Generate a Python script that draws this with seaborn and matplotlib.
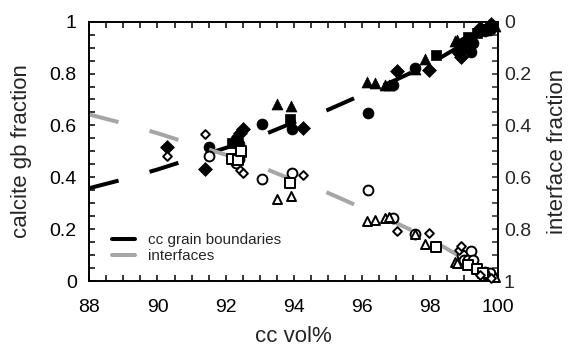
import matplotlib
matplotlib.use("Agg")
import matplotlib.pyplot as plt
from matplotlib.ticker import MultipleLocator, FuncFormatter
import seaborn as sns

# ---- data ----
curve_x = [88, 89, 90, 91, 92, 93, 94, 95, 96, 97, 98, 99, 100]
curve_y = [0.358, 0.392, 0.43, 0.472, 0.513, 0.558, 0.612, 0.66, 0.718, 0.776, 0.838, 0.915, 1.0]

circ_x = [91.52, 92.3, 92.38, 93.07, 93.94, 96.19, 96.9, 97.55, 98.93, 99.0, 99.12, 99.2, 99.25, 99.6, 99.75]
circ_y = [0.518, 0.546, 0.53, 0.606, 0.585, 0.648, 0.757, 0.82, 0.90, 0.92, 0.92, 0.885, 0.918, 0.965, 0.968]

tri_x = [93.52, 93.91, 96.14, 96.38, 96.68, 96.8, 97.55, 97.85, 98.72, 98.8, 99.7, 99.9]
tri_y = [0.683, 0.673, 0.768, 0.765, 0.756, 0.755, 0.818, 0.857, 0.926, 0.93, 0.975, 0.985]

sq_x = [92.2, 92.36, 92.45, 93.9, 98.18, 99.1, 99.37, 99.55]
sq_y = [0.531, 0.533, 0.497, 0.623, 0.87, 0.94, 0.955, 0.97]

dia_x = [90.28, 91.38, 92.42, 92.52, 94.27, 97.03, 97.98, 98.85, 98.9, 99.45, 99.8]
dia_y = [0.516, 0.432, 0.572, 0.585, 0.59, 0.808, 0.815, 0.88, 0.865, 0.975, 0.99]

x_ticks = [88, 90, 92, 94, 96, 98, 100]
y_ticks = [0, 0.2, 0.4, 0.6, 0.8, 1]

sns.set_style("ticks")
plt.rcParams["font.family"] = ["Liberation Sans", "DejaVu Sans"]

fig = plt.figure(figsize=(5.7, 3.51), dpi=100)
ax = fig.add_axes([0.1567, 0.1994, 0.7175, 0.7388])
ax2 = ax.twinx()

grey = "#a6a6a6"
dash = (0, (7.5, 8))
lw = 2.9

sns.lineplot(x=curve_x, y=curve_y, ax=ax, color="black", lw=lw, linestyle=dash,
             label="cc grain boundaries", legend=False)
sns.lineplot(x=curve_x, y=curve_y, ax=ax2, color=grey, lw=lw, linestyle=dash,
             label="interfaces", legend=False)

filled = dict(color="black", edgecolor="black", linewidth=0.5, clip_on=False, zorder=5)
opened = dict(color="white", edgecolor="black", linewidth=1.4, clip_on=False, zorder=5)

for xs, ys, m, s_f, s_o in [(circ_x, circ_y, "o", 62, 50),
                             (tri_x, tri_y, "^", 62, 42),
                             (sq_x, sq_y, "s", 52, 42),
                             (dia_x, dia_y, "D", 50, 20)]:
    sns.scatterplot(x=xs, y=ys, ax=ax, marker=m, s=s_f, legend=False, **filled)
    sns.scatterplot(x=xs, y=ys, ax=ax2, marker=m, s=s_o, legend=False, **opened)

ax.set_xlim(88, 100)
ax.set_ylim(0, 1)
ax2.set_ylim(1, 0)

ax.set_xticks(x_ticks)
ax.set_yticks(y_ticks)
ax2.set_yticks(y_ticks)
ax.xaxis.set_minor_locator(MultipleLocator(0.5))
ax.yaxis.set_minor_locator(MultipleLocator(0.05))
ax2.yaxis.set_minor_locator(MultipleLocator(0.05))
fmt = FuncFormatter(lambda v, p: f"{v:g}")
ax.yaxis.set_major_formatter(fmt)
ax2.yaxis.set_major_formatter(fmt)

ax.tick_params(axis="both", which="both", direction="in", top=True, right=False,
               length=4, width=1.1, colors="black")
ax.tick_params(axis="x", which="major", labelsize=14, pad=13)
ax.tick_params(axis="y", which="major", labelsize=14, pad=9)
ax2.tick_params(axis="y", which="both", direction="in", length=4, width=1.1)
ax2.tick_params(axis="y", which="major", labelsize=14, pad=4)

for a in (ax, ax2):
    for sp in a.spines.values():
        sp.set_linewidth(1.2)
        sp.set_color("black")

ax.set_xlabel("cc vol%", fontsize=16)
ax.set_ylabel("calcite gb fraction", fontsize=16)
ax2.set_ylabel("interface fraction", fontsize=16)
ax.xaxis.set_label_coords(0.5, -0.175)
ax.yaxis.set_label_coords(-0.14, 0.5)
ax2.yaxis.set_label_coords(1.118, 0.5)

h1, l1 = ax.get_legend_handles_labels()
h2, l2 = ax2.get_legend_handles_labels()
leg = ax2.legend(h1 + h2, l1 + l2, loc="upper left", bbox_to_anchor=(0.055, 0.185),
                 frameon=False, fontsize=11, handlelength=1.5, handletextpad=0.85,
                 borderpad=0, borderaxespad=0, labelspacing=0.15)
for line in leg.get_lines():
    line.set_linestyle("-")
    line.set_linewidth(lw)

fig.savefig("out.png", dpi=100)
